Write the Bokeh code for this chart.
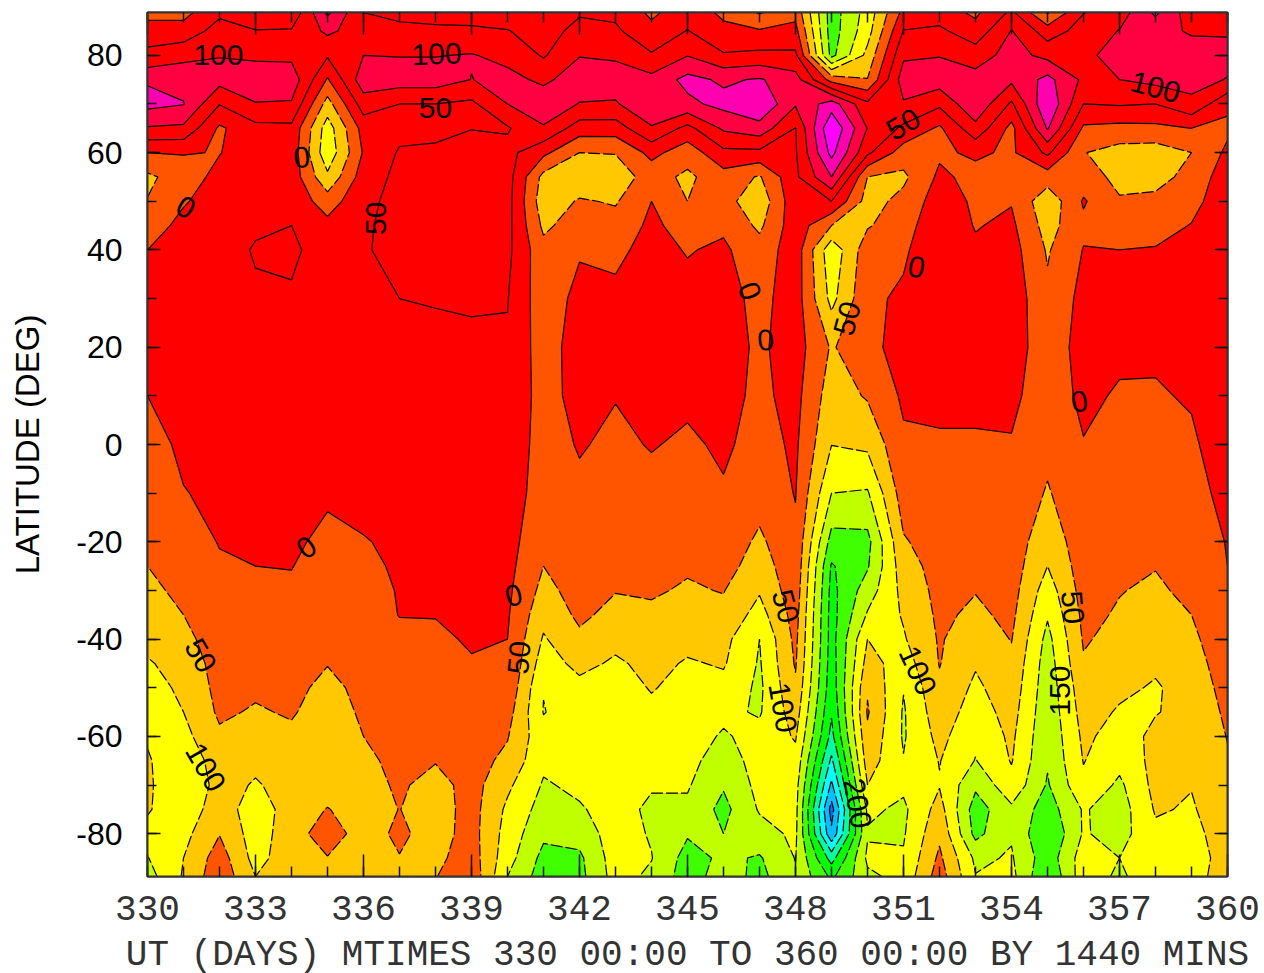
import numpy as np
from bokeh.core.properties import value
from bokeh.embed import file_html
from bokeh.models import ColumnDataSource, FixedTicker, LinearAxis, Range1d
from bokeh.plotting import figure
from bokeh.resources import INLINE

days = list(range(330, 361))
lats = [88.8, 85, 80, 75, 70, 65, 60, 55, 50, 45, 40, 30, 20, 10, 0, -10, -20, -25, -30, -35,
        -40, -45, -50, -55, -60, -65, -70, -75, -80, -85, -88.8]

d330 = [30,-40,-55,-145,-165,-95,0,60,48,25,0,-25,-30,0,20,30,40,50,60,70,85,105,120,130,105,95,90,95,115,152,170]
d331 = [15,-20,-85,-135,-152,-90,-3,25,5,-15,-25,-35,-30,-20,-10,2,20,30,40,50,65,80,90,100,115,135,150,135,115,100,95]
d332 = [-40,-70,-98,-118,-52,8,2,-15,-25,-30,-35,-40,-35,-30,-20,-10,-2,5,10,15,22,30,35,42,58,75,80,70,52,25,15]
d333 = [-20,-52,-92,-125,-98,-35,-30,-35,-40,-45,-53,-45,-40,-35,-30,-20,-8,0,8,15,22,32,42,55,70,88,105,130,125,118,100]
d334 = [-10,-55,-88,-130,-95,-38,-30,-30,-35,-50,-58,-45,-40,-35,-28,-18,-6,-1,5,12,20,28,35,45,60,75,80,75,72,70,65]
d335 = [-160,-110,-55,5,70,125,135,90,25,-15,-30,-35,-30,-25,-15,-5,8,15,20,30,38,48,65,75,85,90,70,48,25,52,70]
d336 = [-50,-75,-100,-130,-75,-20,-5,-25,-38,-45,-47,-48,-45,-38,-30,-18,3,8,12,18,22,28,35,42,50,62,70,72,72,65,60]
d337 = [-40,-60,-98,-125,-50,-35,-55,-62,-65,-62,-60,-50,-42,-35,-28,-20,-10,-5,-2,-1,8,15,20,25,30,35,42,49,40,52,65]
d338 = [-35,-58,-98,-125,-50,-38,-58,-65,-66,-65,-62,-52,-42,-35,-28,-20,-10,-5,-2,-1,5,12,20,28,35,47,70,75,72,62,52]
d339 = [-30,-58,-103,-99,-40,-49,-65,-70,-70,-68,-65,-53,-45,-40,-35,-28,-20,-15,-10,-7,-3,2,10,18,25,30,30,30,30,25,15]
d340 = [-25,-52,-85,-115,-100,-45,-65,-70,-68,-65,-62,-52,-45,-40,-35,-28,-20,-15,-10,-5,0,5,12,30,47,62,90,110,120,130,150]
d341 = [-20,-30,-45,-90,-130,-95,-12,65,80,60,35,30,25,20,22,25,40,50,65,85,105,125,148,152,135,140,155,170,190,215,225]
d342 = [-45,-65,-98,-125,-98,-25,50,85,45,25,5,-15,-25,-18,-4,10,18,22,30,40,60,85,115,125,130,135,140,155,180,210,215]
d343 = [-40,-58,-92,-125,-95,-25,48,75,55,30,10,-10,-20,-2,10,20,28,38,48,65,85,108,120,125,125,125,130,130,125,125,130]
d344 = [10,-15,-55,-115,-140,-95,-15,30,0,-10,-15,-25,-30,-15,-3,15,28,35,45,58,72,85,97,110,120,130,145,160,155,148,160]
d345 = [-30,-52,-98,-165,-138,-35,28,60,50,20,3,-15,-20,-10,8,20,35,45,55,70,85,105,115,125,130,135,145,160,195,220,225]
d346 = [10,-12,-55,-142,-165,-108,-38,20,30,8,-8,-20,-20,-15,-8,5,18,28,48,62,85,95,115,140,155,175,195,215,200,190,175]
d347 = [55,-5,-62,-155,-195,-130,-38,55,85,60,30,15,8,10,18,28,60,78,95,120,150,155,160,155,135,130,135,145,170,205,215]
d348 = [15,-15,-60,-120,-105,-48,-45,-40,-35,-30,-28,-25,-22,-15,-8,-2,8,12,20,30,38,45,58,75,95,115,130,135,140,148,155]
d349 = [225,225,215,20,-175,-245,-215,-150,-50,50,135,115,55,75,99,150,220,255,265,270,270,275,280,295,315,360,410,470,440,320,260]
d350 = [130,120,85,48,-60,-98,-60,50,70,55,20,10,15,45,90,155,215,205,175,145,100,80,55,45,60,75,100,140,155,140,160]
d351 = [-15,-52,-92,-125,-95,-40,25,60,35,20,8,-8,-20,-8,8,25,55,72,85,95,105,125,148,155,155,148,140,160,155,145,135]
d352 = [-25,-60,-98,-125,-60,8,8,-10,-25,-35,-40,-45,-40,-10,5,15,25,30,35,40,45,48,58,70,85,98,103,80,60,40,25]
d353 = [10,-20,-75,-120,-140,-85,-8,15,8,3,-8,-20,-25,-10,5,15,30,35,48,60,80,95,110,125,140,152,190,225,215,160,148]
d354 = [-60,-102,-120,-110,-42,15,8,8,3,-10,-20,-30,-25,-10,3,10,20,25,30,38,48,60,70,80,90,97,115,160,155,145,135]
d355 = [55,-25,-85,-165,-195,-155,-60,25,85,70,55,40,30,25,35,55,85,100,125,145,165,175,180,185,190,195,205,225,250,230,250]
d356 = [-48,-70,-85,-90,-50,8,48,25,-5,10,-2,-15,-20,-10,2,10,18,25,30,38,45,55,70,80,90,98,110,145,145,125,120]
d357 = [-75,-102,-125,-100,-55,15,70,65,45,20,0,-20,-10,5,15,22,32,40,48,55,65,75,90,105,120,135,160,175,170,150,160]
d358 = [-160,-115,-135,-115,-50,12,75,72,35,18,-3,-15,-5,3,12,20,35,48,58,68,80,92,105,102,90,85,85,95,110,120,115]
d359 = [-70,-95,-120,-115,-90,0,50,30,15,-2,-10,-18,-12,-3,5,12,22,30,38,50,60,70,80,88,92,95,98,105,115,125,120]
d360 = [-70,-95,-115,-98,-10,10,-10,-25,-30,-35,-35,-35,-30,-25,-18,-10,-2,0,5,12,18,25,32,40,48,55,65,70,75,78,75]

columns = [d330,d331,d332,d333,d334,d335,d336,d337,d338,d339,d340,d341,d342,d343,d344,d345,
           d346,d347,d348,d349,d350,d351,d352,d353,d354,d355,d356,d357,d358,d359,d360]

band_levels = [-400,-200,-150,-100,0,50,100,150,200,250,300,350,400,450,600]
band_colors = ["#FF00FF","#FF00B0","#FF0040","#FF0000","#FF5500","#FFC800","#FFFF00",
               "#C0FF00","#40FF00","#00FF00","#00FFA0","#00FFFF","#00C0FF","#0070FF"]
solid_levels = [-200,-150,-100,-50,0]
dashed_levels = [50,100,150,200,250,300,350,400,450]

label_text = ["100","100","50","50","100","0","0","50","0","0","0","0","0","0","50","50","100","50","50","100","100","50","150","200"]
label_day = [331.97,338.03,338,351,358,334.28,331.06,336.36,346.72,347.17,351.36,355.89,334.42,340.17,349.44,331.47,331.61,340.33,347.72,347.64,351.39,355.69,355.36,349.72]
label_lat = [80,80.2,69.1,65.8,73.4,59,48.7,46.5,31.5,21.4,36.4,8.8,-21.2,-31.1,25.9,-43.4,-66.4,-43.8,-33.3,-54.1,-46.5,-33.5,-50.6,-73.8]
label_angle = [0,2,0,30,-15,5,-30,90,-70,5,-10,10,35,15,75,-60,-60,85,-75,-80,-65,-85,90,-80]

x_major = list(range(330, 361, 3))
x_minor = days
y_major = list(range(-80, 81, 20))
y_minor = list(range(-80, 81, 10))
x_title = "UT (DAYS) MTIMES 330 00:00 TO 360 00:00 BY 1440 MINS"
y_title = "LATITUDE (DEG)"

z = np.array(columns, dtype=float).T[::-1]
lat_up = np.array(lats[::-1])
day_arr = np.array(days, dtype=float)

p = figure(width=1264, height=973, frame_width=1080, frame_height=864,
           x_range=Range1d(330, 360), y_range=Range1d(-88.8, 88.8),
           output_backend="svg", toolbar_location=None,
           x_axis_type=None, y_axis_type=None,
           min_border_left=147, min_border_right=37, min_border_top=12, min_border_bottom=97,
           background_fill_color="#FF0000")
p.grid.visible = False
p.outline_line_color = "#333333"
p.outline_line_width = 2

p.contour(day_arr, lat_up, z, levels=band_levels, fill_color=band_colors, line_color=None)
p.contour(day_arr, lat_up, z, levels=solid_levels, fill_color=None, line_color="black", line_width=1.2)
p.contour(day_arr, lat_up, z, levels=dashed_levels, fill_color=None, line_color="black",
          line_width=1.2, line_dash="12 3")

src = ColumnDataSource(dict(x=label_day, y=label_lat, t=label_text, a=label_angle))
p.text("x", "y", text="t", angle="a", angle_units="deg", source=src, text_align="center",
       text_baseline="middle", text_font=value("Liberation Sans"), text_font_size="30px",
       text_color="black")


def style(ax, major, minor, major_in, minor_in):
    ax.ticker = FixedTicker(ticks=major, minor_ticks=minor)
    ax.major_tick_in = major_in
    ax.major_tick_out = 0
    ax.minor_tick_in = minor_in
    ax.minor_tick_out = 0
    ax.axis_line_color = "#333333"
    ax.axis_line_width = 2
    ax.major_tick_line_color = "#111111"
    ax.minor_tick_line_color = "#111111"
    ax.major_tick_line_width = 1.5
    ax.minor_tick_line_width = 1.5


bottom = LinearAxis(axis_label=x_title)
style(bottom, x_major, x_minor, 22, 10)
bottom.major_label_text_font = "Liberation Mono"
bottom.major_label_text_font_size = "36px"
bottom.major_label_text_color = "#333333"
bottom.major_label_standoff = 19
bottom.axis_label_text_font = "Liberation Mono"
bottom.axis_label_text_font_size = "36px"
bottom.axis_label_text_font_style = "normal"
bottom.axis_label_text_color = "#333333"
bottom.axis_label_standoff = 12
p.add_layout(bottom, "below")

left = LinearAxis(axis_label=y_title)
style(left, y_major, y_minor, 13, 9)
left.major_label_overrides = {v: str(v) for v in y_major}
left.major_label_text_font = "Liberation Sans"
left.major_label_text_font_size = "32px"
left.major_label_text_color = "black"
left.major_label_standoff = 25
left.axis_label_text_font = "Liberation Sans"
left.axis_label_text_font_size = "33px"
left.axis_label_text_font_style = "normal"
left.axis_label_text_color = "black"
left.axis_label_standoff = 27
p.add_layout(left, "left")

top = LinearAxis()
style(top, x_major, x_minor, 22, 10)
top.major_label_overrides = {v: "" for v in x_major}
top.major_label_standoff = 0
p.add_layout(top, "above")

right = LinearAxis()
style(right, y_major, y_minor, 13, 9)
right.major_label_overrides = {v: "" for v in y_major}
right.major_label_standoff = 0
p.add_layout(right, "right")

open("out.html", "w").write(file_html(p, INLINE))
